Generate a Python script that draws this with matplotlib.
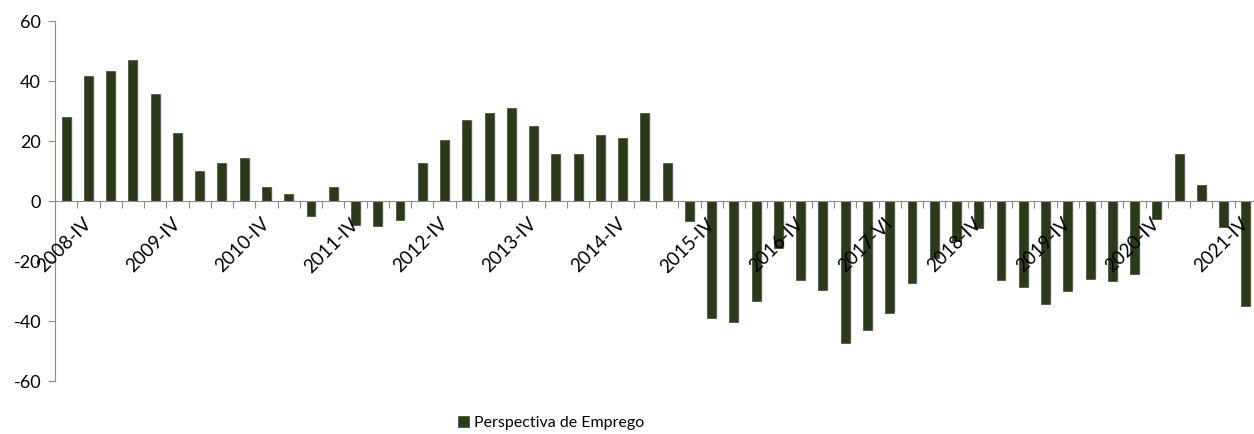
import matplotlib
matplotlib.use('Agg')
import matplotlib.pyplot as plt
import numpy as np

# quarterly series 2008-III .. 2021-IV
quarters = [f'{y}-{q}' for y in range(2008, 2022) for q in ['I', 'II', 'III', 'IV']][2:]
values = [28, 41.6, 43.2, 46.9, 35.8, 22.7, 9.9, 12.6, 14.2, 4.6, 2.4, -5.0, 4.7, -7.9, -8.3, -6.3,
          12.7, 20.3, 27.1, 29.2, 31.0, 25.0, 15.8, 15.7, 21.9, 21.0, 29.4, 12.8, -6.8,
          -39.1, -40.4, -33.4, -15.8, -26.3, -29.8, -47.4, -43.1, -37.4, -27.4, -19.0, -13.3, -9.1,
          -26.2, -28.8, -34.4, -30.1, -25.9, -26.7, -24.3, -6.0, 15.8, 5.3, -8.7, -35.1]
label_idx = list(range(1, len(quarters), 4))
tick_labels = [quarters[i] for i in label_idx]
tick_labels[label_idx.index(37)] = '2017-VI'   # as written in the original
series_name = 'Perspectiva de Emprego'

BAR = '#2b3a1b'
GREY = '#8c8c8c'
plt.rcParams['font.family'] = ['Lato', 'DejaVu Sans']
plt.rcParams['axes.unicode_minus'] = False

fig = plt.figure(figsize=(12.54, 4.34), dpi=100)
ax = fig.add_axes([55/1254, 1-381/434, (1257-55)/1254, 360/434])

x = np.arange(len(values))
# soft shadow
ax.bar(x + 0.08, np.array(values) - np.sign(values)*0.3, width=0.42, color='#000000',
       alpha=0.10, zorder=1, linewidth=0)
ax.bar(x, values, width=0.4, color=BAR, edgecolor='#4a5a35', linewidth=0.6, zorder=2,
       label=series_name)

ax.set_xlim(-0.5, len(values) - 0.5)
ax.set_ylim(-60, 60)
ax.set_yticks(range(-60, 61, 20))
ax.tick_params(axis='y', labelsize=13, color=GREY, length=5, pad=5)

ax.spines['top'].set_visible(False)
ax.spines['right'].set_visible(False)
ax.spines['left'].set_color(GREY)
ax.spines['bottom'].set_color(GREY)
ax.spines['bottom'].set_position(('data', 0))

# Excel-style ticks between categories, labels every 4th quarter
ax.set_xticks(np.arange(len(values) + 1) - 0.5)
ax.set_xticklabels([])
ax.tick_params(axis='x', which='major', direction='out', length=5, color=GREY)
for i, lab in zip(label_idx, tick_labels):
    ax.annotate(lab, xy=(i, 0), xycoords='data', xytext=(0, -20),
                textcoords='offset pixels', rotation=45, rotation_mode='anchor',
                ha='right', va='center', fontsize=13.5, annotation_clip=False)

fig.legend(loc='center', bbox_to_anchor=(551/1254, 1-423/434), frameon=False,
           fontsize=11.5, handlelength=0.7, handleheight=0.7, handletextpad=0.3)

fig.savefig('out.png', dpi=100)
